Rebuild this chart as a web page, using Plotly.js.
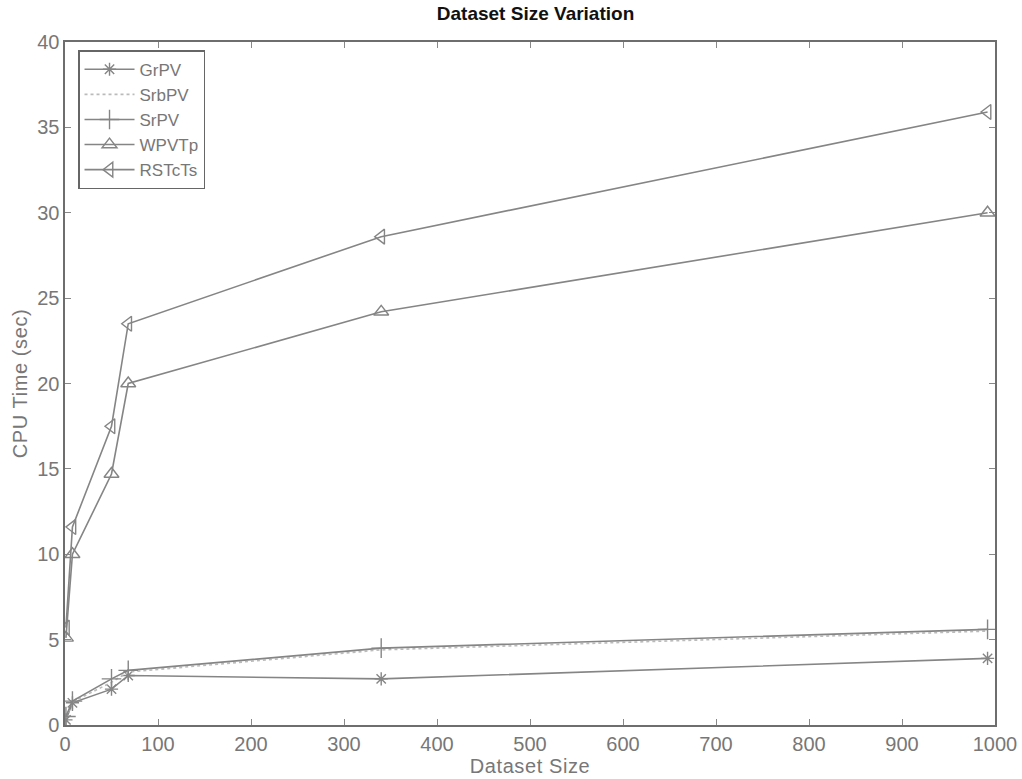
<!DOCTYPE html>
<html>
<head>
<meta charset="utf-8">
<script src="https://cdn.plot.ly/plotly-3.0.1.min.js"></script>
<style>
html,body{margin:0;padding:0;background:#fff;}
#chart{width:1022px;height:779px;}
#chart .xtitle, #chart .ytitle {letter-spacing:0.6px;}
</style>
</head>
<body>
<div id="chart"></div>
<script>
const datasetSize = [1, 8, 50, 68, 340, 992];
const grpv   = [0.3, 1.3, 2.1, 2.9, 2.7, 3.9];
const srbpv  = [0.4, 1.35, 2.5, 3.1, 4.4, 5.5];
const srpv   = [0.5, 1.4, 2.7, 3.2, 4.5, 5.6];
const wpvtp  = [5.1, 10.0, 14.7, 20.0, 24.2, 30.0];
const rstcts = [5.7, 11.6, 17.5, 23.5, 28.6, 35.9];
const xTicks = [0, 100, 200, 300, 400, 500, 600, 700, 800, 900, 1000];
const yTicks = [0, 5, 10, 15, 20, 25, 30, 35, 40];

const lineColor = '#858585';
const fontFam = 'Liberation Sans, Arial, sans-serif';
function tr(name, y, symbol, dash, size) {
  const t = {
    x: datasetSize, y: y, name: name, type: 'scatter',
    mode: symbol ? 'lines+markers' : 'lines',
    line: {color: lineColor, width: 1.6, dash: dash || 'solid'}
  };
  if (symbol) {
    t.marker = {symbol: symbol, size: size || 11, color: lineColor, line: {color: lineColor, width: 1.4}};
  }
  return t;
}
const data = [
  tr('GrPV', grpv, 'asterisk-open', 'solid', 11),
  tr('SrbPV', srbpv, null, 'dot'),
  tr('SrPV', srpv, 'cross-thin-open', 'solid', 14),
  tr('WPVTp', wpvtp, 'triangle-up-open', 'solid', 13),
  tr('RSTcTs', rstcts, 'triangle-left-open', 'solid', 13)
];
data[1].line.color = '#bbbbbb';

const axisCommon = {
  showline: true, linecolor: '#6e6e6e', linewidth: 1.6, mirror: 'ticks',
  ticks: 'inside', ticklen: 6, tickcolor: '#888', tickwidth: 1,
  showgrid: false, zeroline: false,
  tickfont: {family: fontFam, size: 20, color: '#777'}
};
const layout = {
  width: 1022, height: 779,
  margin: {l: 65, r: 27, t: 42, b: 54},
  paper_bgcolor: '#fff', plot_bgcolor: '#fff',
  title: {text: 'Dataset Size Variation', x: 0.524, xanchor: 'center', y: 0.992, yanchor: 'top',
          font: {family: fontFam, size: 19, color: '#111', weight: 'bold'}},
  xaxis: Object.assign({}, axisCommon, {
    range: [0, 1000], tickvals: xTicks, ticktext: xTicks.map(String),
    title: {text: 'Dataset Size', standoff: 0, font: {family: fontFam, size: 20, color: '#777'}}
  }),
  yaxis: Object.assign({}, axisCommon, {
    range: [0, 40], tickvals: yTicks, ticktext: yTicks.map(String),
    title: {text: 'CPU Time (sec)', standoff: 4, font: {family: fontFam, size: 20, color: '#777'}}
  }),
  showlegend: true,
  legend: {
    x: 0.014, y: 0.988, xanchor: 'left', yanchor: 'top',
    bgcolor: '#fff', bordercolor: '#666', borderwidth: 1.5,
    font: {family: fontFam, size: 17, color: '#777'},
    tracegroupgap: 0, itemwidth: 50
  }
};
Plotly.newPlot('chart', data, layout, {displayModeBar: false, staticPlot: true});
</script>
</body>
</html>
